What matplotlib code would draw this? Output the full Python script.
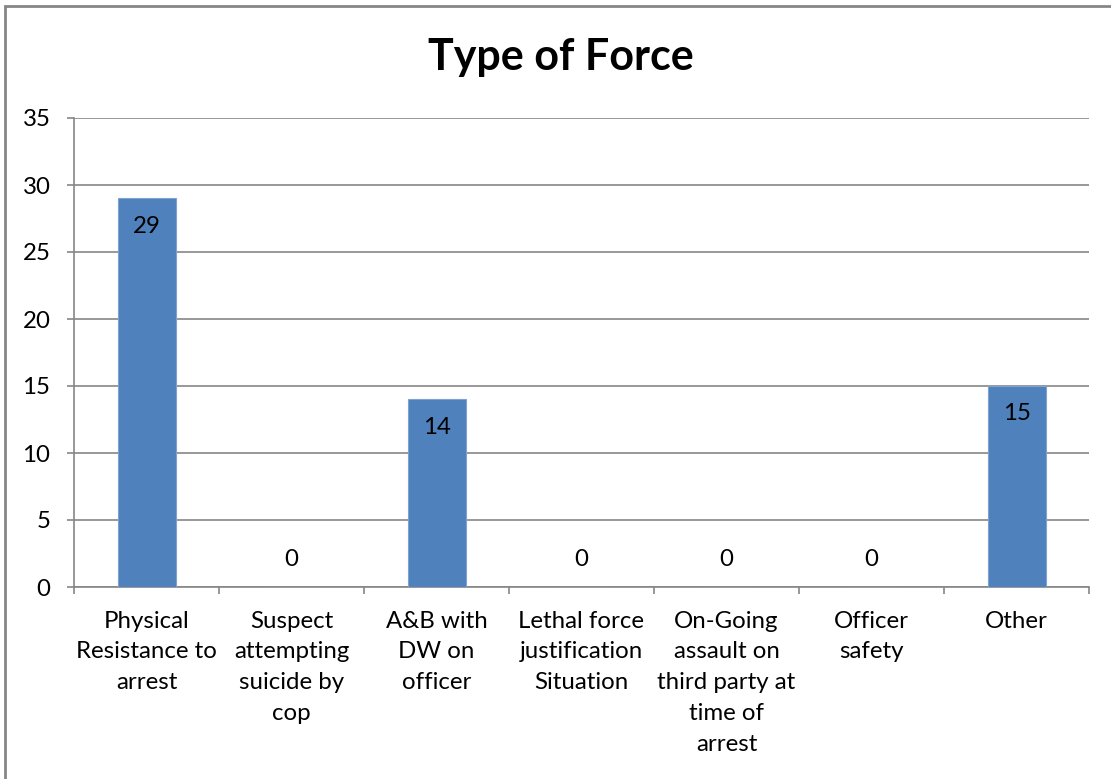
import matplotlib
matplotlib.use('Agg')
import matplotlib.pyplot as plt
from matplotlib.patches import Rectangle
import numpy as np

plt.rcParams['font.family'] = ['Lato', 'DejaVu Sans']

categories = ['Physical\nResistance to\narrest',
              'Suspect\nattempting\nsuicide by\ncop',
              'A&B with\nDW on\nofficer',
              'Lethal force\njustification\nSituation',
              'On-Going\nassault on\nthird party at\ntime of\narrest',
              'Officer\nsafety',
              'Other']
counts = [29, 0, 14, 0, 0, 0, 15]
yticks = [0, 5, 10, 15, 20, 25, 30, 35]

grey = '#868686'
blue = '#4F81BD'
fs = 17.3

fig = plt.figure(figsize=(11.11, 7.79), dpi=100, facecolor='w')
#outer chart border, right/bottom edges run off the picture
fig.patches.append(Rectangle((5/1111, -0.05), 1.1, 1 - 6/779 + 0.05,
                             transform=fig.transFigure, fill=False,
                             edgecolor=grey, linewidth=2))

ax = fig.add_axes([74/1111, 192/779, 1015/1111, 469/779])
x = np.arange(len(counts))
ax.bar(x, counts, width=0.4, color=blue, edgecolor='#7FA3D0', linewidth=0.8, zorder=3)

for xi, v in zip(x, counts):
    if v > 0:
        ax.annotate(str(v), (xi, v), xytext=(0, -20), textcoords='offset points',
                    ha='center', va='center', fontsize=fs)
    else:
        ax.annotate(str(v), (xi, v), xytext=(0, 20), textcoords='offset points',
                    ha='center', va='center', fontsize=fs)

ax.set_xlim(-0.5, len(counts) - 0.5)
ax.set_ylim(0, 35)
ax.set_yticks(yticks)
ax.tick_params(axis='y', length=5, width=1.2, color=grey, labelsize=fs, pad=12)
ax.yaxis.grid(True, color=grey, linewidth=1.2, zorder=0)

ax.set_xticks(x)
ax.set_xticklabels(categories, fontsize=fs, linespacing=1.58)
ax.tick_params(axis='x', length=0, pad=17)
ax.set_xticks(np.arange(-0.5, len(counts)), minor=True)
ax.tick_params(axis='x', which='minor', length=5, width=1.2, color=grey)

for side in ['top', 'right']:
    ax.spines[side].set_visible(False)
ax.spines['left'].set_color(grey)
ax.spines['bottom'].set_color(grey)
ax.spines['left'].set_linewidth(1.2)
ax.spines['bottom'].set_linewidth(1.2)

fig.text(561/1111, 1 - 57/779, 'Type of Force', ha='center', va='center',
         fontsize=31, fontweight='bold')

fig.savefig('out.png', dpi=100)
